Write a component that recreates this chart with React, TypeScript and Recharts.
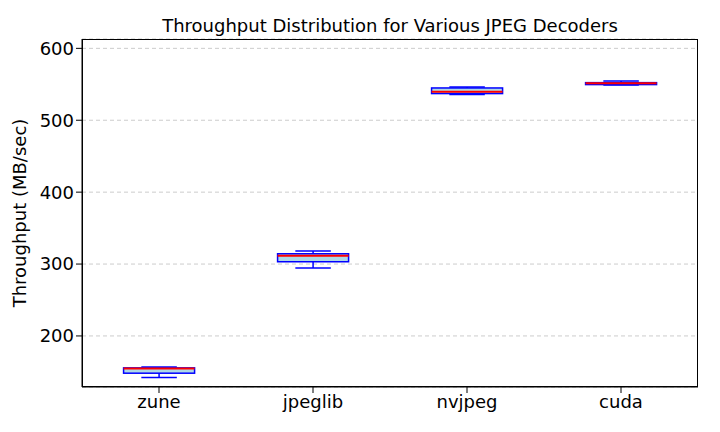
import { Bar, CartesianGrid, ComposedChart, XAxis, YAxis } from "recharts";

const decoders = ["zune", "jpeglib", "nvjpeg", "cuda"];
const whiskerLow = [142.1, 294.4, 535.7, 549.0];
const q1 = [148.2, 303.2, 537.1, 549.6];
const median = [154.6, 311.5, 539.8, 551.4];
const q3 = [155.6, 314.3, 544.9, 552.3];
const whiskerHigh = [156.9, 318.0, 546.3, 554.6];
const yTicks = [200, 300, 400, 500, 600];

const data = decoders.map((name, i) => ({
  name,
  range: [whiskerLow[i], whiskerHigh[i]],
  lo: whiskerLow[i],
  hi: whiskerHigh[i],
  q1: q1[i],
  med: median[i],
  q3: q3[i],
}));

function BoxShape(props: any) {
  const { x, y, width, height, payload } = props;
  const { lo, hi } = payload;
  const toY = (v: number) => y + (height * (hi - v)) / (hi - lo);
  const cx = x + width / 2;
  const bw = width;
  const cw = width * 0.5;
  return (
    <g>
      <line x1={cx} x2={cx} y1={toY(hi)} y2={toY(payload.q3)} stroke="blue" strokeWidth={1.5} />
      <line x1={cx} x2={cx} y1={toY(payload.q1)} y2={toY(lo)} stroke="blue" strokeWidth={1.5} />
      <line x1={cx - cw / 2} x2={cx + cw / 2} y1={toY(hi)} y2={toY(hi)} stroke="blue" strokeWidth={1.5} />
      <line x1={cx - cw / 2} x2={cx + cw / 2} y1={toY(lo)} y2={toY(lo)} stroke="blue" strokeWidth={1.5} />
      <rect
        x={cx - bw / 2}
        y={toY(payload.q3)}
        width={bw}
        height={Math.max(toY(payload.q1) - toY(payload.q3), 0.5)}
        fill="#add8e6"
        stroke="blue"
        strokeWidth={1.5}
      />
      <line x1={cx - bw / 2} x2={cx + bw / 2} y1={toY(payload.med)} y2={toY(payload.med)} stroke="red" strokeWidth={2} />
    </g>
  );
}

export default function App() {
  return (
    <div style={{ width: 720, height: 432, margin: -8, background: "#fff", fontFamily: "DejaVu Sans", position: "relative" }}>
      <div style={{ position: "absolute", top: 15, width: 720, paddingLeft: 82, paddingRight: 22, boxSizing: "border-box", textAlign: "center", fontSize: 18, color: "#000" }}>
        Throughput Distribution for Various JPEG Decoders
      </div>
      <ComposedChart width={720} height={432} data={data} margin={{ top: 39, right: 22, left: 0, bottom: 0 }} barCategoryGap="27%">
        <CartesianGrid vertical={false} strokeDasharray="4 3" stroke="#cccccc" />
        <XAxis
          dataKey="name"
          height={45}
          tick={{ fontSize: 18, fill: "#000" }}
          tickLine={{ stroke: "#000" }}
          axisLine={{ stroke: "#000" }}
        />
        <YAxis
          width={82}
          domain={[129, 613]}
          ticks={yTicks}
          tick={{ fontSize: 18, fill: "#000" }}
          tickLine={{ stroke: "#000" }}
          axisLine={{ stroke: "#000" }}
          label={{ value: "Throughput (MB/sec)", angle: -90, position: "insideLeft", offset: 20, style: { textAnchor: "middle", fontSize: 18, fill: "#000" } }}
        />
        <Bar dataKey="range" shape={BoxShape} isAnimationActive={false} />
      </ComposedChart>
      <div style={{ position: "absolute", left: 82, top: 39, width: 616, height: 348, border: "1px solid #000", boxSizing: "border-box", pointerEvents: "none" }} />
    </div>
  );
}
